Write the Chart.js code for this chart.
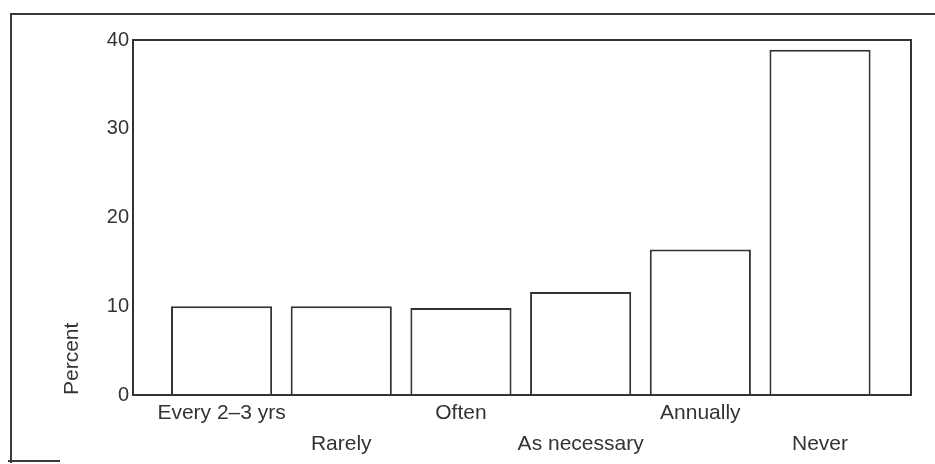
<!DOCTYPE html>
<html>
<head>
    <meta charset="utf-8">
    <title>Percent by frequency</title>
    <script src="https://cdn.jsdelivr.net/npm/chart.js@4.4.1/dist/chart.umd.min.js"></script>
    <style>
        body { margin: 0; background: #fff; overflow: hidden; }
        .wrap { position: relative; width: 935px; height: 464px; }
        .frame { position: absolute; left: 10px; top: 13px; width: 940px; height: 448px;
                 border-left: 2px solid #3a3a3a; border-top: 2px solid #3a3a3a; }
        .frame-foot { position: absolute; left: 8px; top: 460px; width: 52px; border-top: 2px solid #3a3a3a; }
        canvas { position: absolute; left: 0; top: 0; }
    </style>
</head>
<body>
    <div class="wrap">
        <div class="frame"></div>
        <div class="frame-foot"></div>
        <canvas id="freqChart"></canvas>
    </div>

    <script>
        // values
        const categories = ['Every 2–3 yrs', 'Rarely', 'Often', 'As necessary', 'Annually', 'Never'];
        const percents = [10, 10, 9.8, 11.6, 16.4, 38.9];
        const yTicks = [0, 10, 20, 30, 40];

        const ink = '#333';
        const font = { family: '"Liberation Sans", Arial, sans-serif', size: 21 };

        // box around the plot area (top + right sides too)
        const plotFrame = {
            id: 'plotFrame',
            afterDatasetsDraw(chart) {
                const { ctx, chartArea: a } = chart;
                ctx.save();
                ctx.strokeStyle = ink;
                ctx.lineWidth = 2;
                ctx.strokeRect(a.left, a.top, a.right - a.left, a.bottom - a.top);
                ctx.restore();
            }
        };

        const ctx = document.getElementById('freqChart').getContext('2d');
        const chart = new Chart(ctx, {
            type: 'bar',
            data: {
                datasets: [{
                    data: percents.map((v, i) => ({ x: i, y: v })),
                    backgroundColor: '#fff',
                    borderColor: ink,
                    borderWidth: 2,
                    barPercentage: 0.845,
                    categoryPercentage: 1
                }]
            },
            plugins: [plotFrame],
            options: {
                responsive: true,
                maintainAspectRatio: false,
                animation: false,
                layout: { padding: { left: 50, right: 24, top: 40, bottom: 0 } },
                plugins: { legend: { display: false }, tooltip: { enabled: false } },
                scales: {
                    x: {
                        type: 'linear',
                        min: -0.74,
                        max: 5.76,
                        offset: false,
                        grid: { display: false, drawTicks: false },
                        border: { display: false },
                        afterBuildTicks: (scale) => { scale.ticks = categories.map((c, i) => ({ value: i })); },
                        afterFit: (scale) => { scale.height = 69; },
                        ticks: {
                            autoSkip: false,
                            maxRotation: 0,
                            padding: 2,
                            color: ink,
                            font: { ...font, lineHeight: 1.5 },
                            // stagger the labels over two rows
                            callback: (v) => (v % 2 === 0 ? [categories[v], ''] : ['', categories[v]])
                        }
                    },
                    y: {
                        min: 0,
                        max: 40,
                        grid: { display: false, drawTicks: false },
                        border: { display: false },
                        afterBuildTicks: (scale) => { scale.ticks = yTicks.map(v => ({ value: v })); },
                        afterFit: (scale) => { scale.width = 83; },
                        ticks: { padding: 4, color: ink, font: { ...font, size: 20 } },
                        title: {
                            display: true,
                            text: 'Percent',
                            align: 'start',
                            color: ink,
                            font: font,
                            padding: { top: 10, bottom: 0 }
                        }
                    }
                }
            }
        });
    </script>
</body>
</html>
